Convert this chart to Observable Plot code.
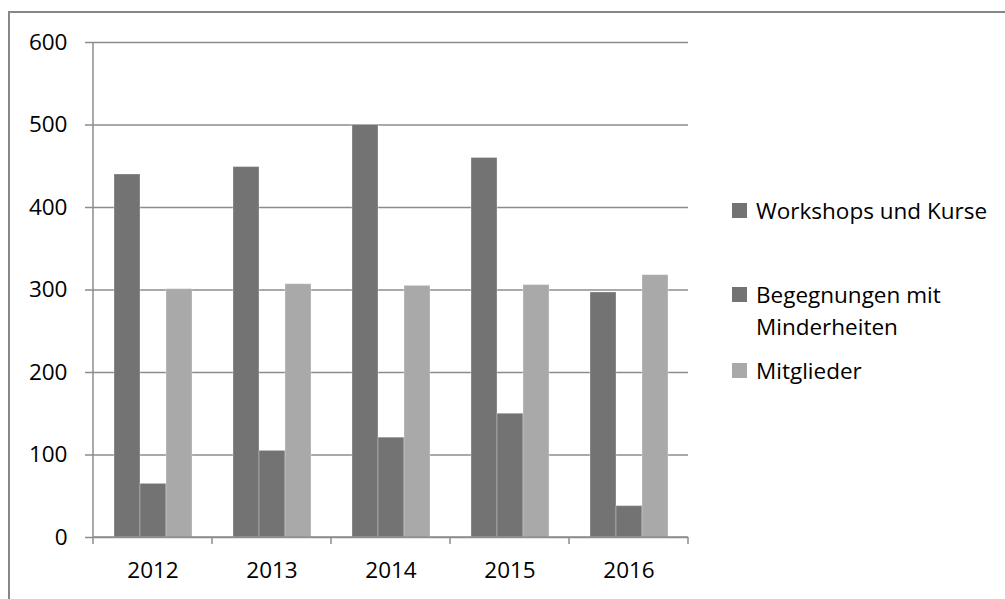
<!DOCTYPE html>
<html><head><meta charset="utf-8">
<script src="https://cdn.jsdelivr.net/npm/d3@7"></script>
<script src="https://cdn.jsdelivr.net/npm/@observablehq/plot@0.6"></script>
<style>
body{margin:0;background:#fff;}
#wrap{position:relative;width:1005px;height:599px;overflow:hidden;font-family:"Open Sans",sans-serif;background:#fff;}
#border{position:absolute;left:8px;top:11px;width:1100px;height:700px;border-left:2px solid #878787;border-top:2px solid #878787;}
#chart{position:absolute;left:0;top:0;}
#legend{position:absolute;left:0;top:0;}
</style></head><body>
<div id="wrap"><div id="border"></div><div id="chart"></div><svg id="legend" width="1005" height="599"></svg></div>
<script>
const years = ["2012", "2013", "2014", "2015", "2016"];
const seriesNames = ["Workshops und Kurse", "Begegnungen mit Minderheiten", "Mitglieder"];
const workshops = [440, 449, 500, 460, 297];
const begegnungen = [65, 105, 121, 150, 38];
const mitglieder = [301, 307, 305, 306, 318];
const yTicks = [0, 100, 200, 300, 400, 500, 600];
const colors = ["#737373", "#737373", "#a9a9a9"];
const legendLines = [["Workshops und Kurse"], ["Begegnungen mit", "Minderheiten"], ["Mitglieder"]];

const seriesValues = [workshops, begegnungen, mitglieder];
const data = years.flatMap((yr, i) => seriesValues.map((arr, j) => ({year: yr, series: seriesNames[j], value: arr[i]})));

const FONT = "'Open Sans', sans-serif";
const FS = 22.5;
const gridColor = "#8c8c8c";
const plot = Plot.plot({
  width: 1005, height: 599,
  marginLeft: 92, marginRight: 316, marginTop: 42, marginBottom: 62,
  style: {fontFamily: FONT, fontSize: FS + "px", color: "#000", background: "transparent", overflow: "visible"},
  fx: {domain: years, padding: 0, label: null},
  x: {domain: seriesNames, paddingInner: 0, paddingOuter: 0.767, axis: null},
  y: {domain: [0, 600], label: null},
  color: {domain: seriesNames, range: colors},
  marks: [
    Plot.gridY(yTicks, {stroke: gridColor, strokeOpacity: 1, strokeWidth: 1.5}),
    Plot.axisY(yTicks, {tickSize: 8, tickPadding: 18, stroke: gridColor, strokeWidth: 1.5, label: null, fontSize: FS, fill: "#000"}),
    Plot.barY(data, {fx: "year", x: "series", y: "value", fill: "series", stroke: "#fff", strokeOpacity: 0.3, strokeWidth: 1}),
    Plot.axisFx({anchor: "bottom", tickSize: 0, tickPadding: 25, label: null, fontSize: FS, fill: "#000"})
  ]
});
document.getElementById("chart").appendChild(plot);

// y-axis line and category boundary ticks from the library's scales
const svg = d3.select(plot);
const fx = plot.scale("fx");
const ys = plot.scale("y");
const y0 = ys.apply(0), yTop = ys.apply(600);
const bounds = years.map(yr => fx.apply(yr)).concat([fx.apply(years[years.length - 1]) + fx.bandwidth]);
const g = svg.append("g").attr("stroke", gridColor).attr("stroke-width", 1.5);
g.append("line").attr("x1", bounds[0]).attr("x2", bounds[0]).attr("y1", yTop).attr("y2", y0);
g.append("line").attr("x1", bounds[0]).attr("x2", bounds[bounds.length - 1]).attr("y1", y0).attr("y2", y0);
bounds.forEach(b => g.append("line").attr("x1", b).attr("x2", b).attr("y1", y0).attr("y2", y0 + 7));

// legend
const leg = d3.select("#legend");
const legendTops = [203, 287, 363];
legendLines.forEach((lines, i) => {
  leg.append("rect").attr("x", 732).attr("y", legendTops[i]).attr("width", 15).attr("height", 15).attr("fill", colors[i]);
  lines.forEach((t, k) => {
    leg.append("text").attr("x", 756).attr("y", legendTops[i] + 16 + k * 32)
      .attr("font-family", FONT).attr("font-size", FS).attr("fill", "#000").text(t);
  });
});
</script>
</body></html>
